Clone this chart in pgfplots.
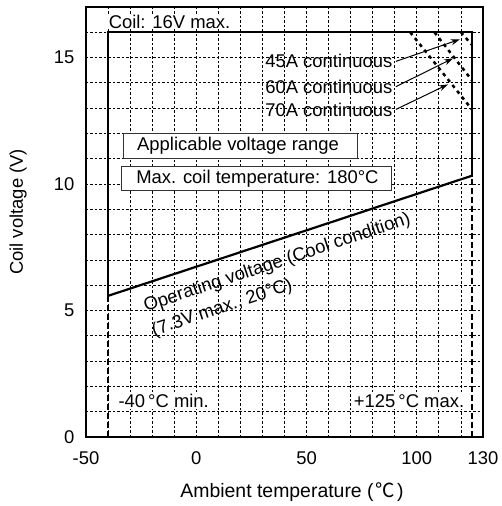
\documentclass[border=0pt]{standalone}
\usepackage{fontspec}
\setmainfont{Liberation Sans}
\newfontfamily\cjk{Noto Sans CJK JP}
\usepackage{pgfplots}
\pgfplotsset{compat=1.18}
\usetikzlibrary{arrows.meta}
\newcommand\F{\fontsize{18.5}{22}\selectfont}
\newcommand\FL{\fontsize{19.5}{23}\selectfont}
\begin{document}
\begin{tikzpicture}
\begin{axis}[
  at={(0,0)}, anchor=south west,
  width=397bp, height=430bp, scale only axis,
  xmin=-50, xmax=130, ymin=0, ymax=17,
  xtick={-50,0,50,100,130},
  ytick={0,5,10,15},
  minor xtick={-40,-30,...,120},
  minor ytick={1,2,...,16},
  xminorgrids, yminorgrids,
  minor grid style={black, line width=0.8bp, dash pattern=on 2.5bp off 2bp},
  major tick length=0pt, minor tick length=0pt,
  axis line style={line width=2bp},
  tick label style={font=\F},
  /pgf/number format/assume math mode=true,
  xticklabel style={yshift=-11bp},
  yticklabel style={xshift=-8bp},
  clip=false,
]
% operating range (thick solid)
\addplot[line width=2.2bp, line join=miter] coordinates {(-40,5.58) (-40,16) (125,16) (125,10.33)};
\addplot[line width=2.2bp] coordinates {(-40,5.58) (125,10.33)};
% temperature limits (thick dashed)
\addplot[line width=2.2bp, dash pattern=on 6bp off 3bp] coordinates {(-40,0) (-40,5.58)};
\addplot[line width=2.2bp, dash pattern=on 6bp off 3bp] coordinates {(125,0) (125,10.33)};
% continuous current limits (dotted)
\addplot[line width=2.5bp, dash pattern=on 3.5bp off 4bp] coordinates {(97,16) (125,12.95)};
\addplot[line width=2.5bp, dash pattern=on 3.5bp off 4bp] coordinates {(108,16) (125,14.1)};
\addplot[line width=2.5bp, dash pattern=on 3.5bp off 4bp] coordinates {(120,16) (125,15.5)};
% arrows
\addplot[line width=1bp, -{Stealth[length=9bp,width=6bp]}] coordinates {(90.5,14.85) (119.5,15.72)};
\addplot[line width=1bp, -{Stealth[length=9bp,width=6bp]}] coordinates {(90.5,13.85) (116.4,14.97)};
\addplot[line width=1bp, -{Stealth[length=9bp,width=6bp]}] coordinates {(90.5,12.95) (114.1,13.94)};

\node[font=\F, anchor=east, inner sep=0pt] at (axis cs:89,14.85) {45A continuous};
\node[font=\F, anchor=east, inner sep=0pt] at (axis cs:89,13.85) {60A continuous};
\node[font=\F, anchor=east, inner sep=0pt] at (axis cs:89,12.95) {70A continuous};

\node[font=\F, anchor=west, fill=white, inner sep=0.5bp] at (axis cs:-40,16.43) {Coil: 16V max.};

\draw[line width=0.9bp, black!80, fill=white] (axis cs:-33.2,11) rectangle (axis cs:73.3,12);
\node[font=\F, anchor=west, inner sep=0pt] at (axis cs:-26.9,11.5) {Applicable voltage range};
\draw[line width=0.9bp, black!80, fill=white] (axis cs:-33.7,9.74) rectangle (axis cs:88.7,10.69);
\node[font=\F, anchor=west, inner sep=0pt] at (axis cs:-27.3,10.2) {Max. coil temperature: 180°C};

\node[font=\F, rotate=18.5, anchor=base west, inner sep=0pt] at (axis cs:-22.8,4.94) {Operating voltage (Cool condition)};
\node[font=\F, rotate=18.5, anchor=base west, inner sep=0pt] at (axis cs:-19.2,3.99) {(7.3V max., 20°C)};

\node[font=\F, anchor=west, fill=white, inner sep=1bp] at (axis cs:-35.8,1.42) {-40\,°C min.};
\node[font=\F, anchor=east, fill=white, inner sep=1bp] at (axis cs:122,1.42) {+125\,°C max.};
\end{axis}
\node[font=\FL, anchor=base] at (206bp,-60bp) {Ambient temperature (\hspace{2bp}{\cjk ℃}\hspace{2bp})};
\node[font=\F, rotate=90, anchor=base] at (-63bp,225bp) {Coil voltage (V)};
\pgfresetboundingbox
\path[use as bounding box] (-86bp,-69bp) rectangle (416bp,437bp);
\end{tikzpicture}
\end{document}
